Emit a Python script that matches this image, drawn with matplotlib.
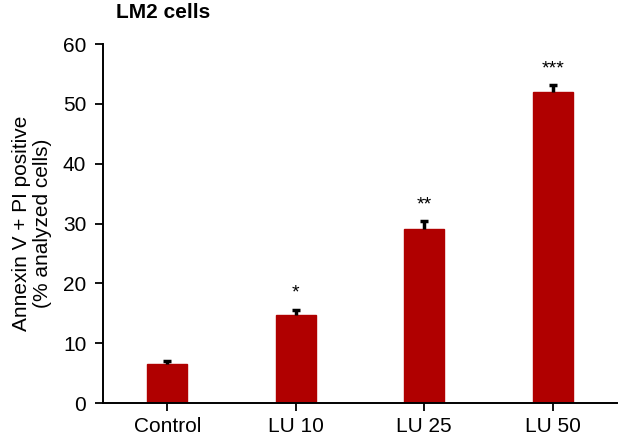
import numpy as np
import matplotlib
matplotlib.use("Agg")
import matplotlib.pyplot as plt

plt.rcParams.update({
    "font.family": ["Liberation Sans", "DejaVu Sans"],
    "font.size": 15,
})

groups = ["Control", "LU 10", "LU 25", "LU 50"]
means = [6.6, 14.7, 29.1, 52.0]
errors = [0.4, 0.9, 1.3, 1.1]
stars = ["", "*", "**", "***"]

fig = plt.figure(figsize=(6.42, 4.38), dpi=100)
ax = fig.add_axes([0.1604, 0.0799, 0.8006, 0.8196])

x = np.arange(len(groups))
tops = np.array(means) + np.array(errors)
ax.bar(x, means, width=0.31, color="#B00000", edgecolor="#B00000", zorder=2)
# upper-only error bars
ax.vlines(x, means, tops, color="black", lw=2.5, zorder=3)
ax.hlines(tops, x - 0.03, x + 0.03, color="black", lw=2.5, zorder=3)
for xi, t, s in zip(x, tops, stars):
    if s:
        ax.text(xi, t + 1.3, s, ha="center", va="bottom", fontsize=14)

ax.set_xlim(-0.5, 3.5)
ax.set_ylim(0, 60)
ax.set_yticks(np.arange(0, 61, 10))
ax.set_xticks(x)
ax.set_xticklabels(groups)
ax.tick_params(axis="both", direction="out", length=6, width=1.3, labelsize=15)
ax.tick_params(axis="x", pad=4)
ax.tick_params(axis="y", pad=6)
for side in ["top", "right"]:
    ax.spines[side].set_visible(False)
for side in ["left", "bottom"]:
    ax.spines[side].set_linewidth(1.4)

ax.set_ylabel("Annexin V + PI positive\n(% analyzed cells)", fontsize=15,
              labelpad=8, linespacing=1.15)
fig.text(0.254, 0.972, "LM2 cells", ha="center", va="center",
         fontsize=15, fontweight="bold")

fig.savefig("out.png", dpi=100)
